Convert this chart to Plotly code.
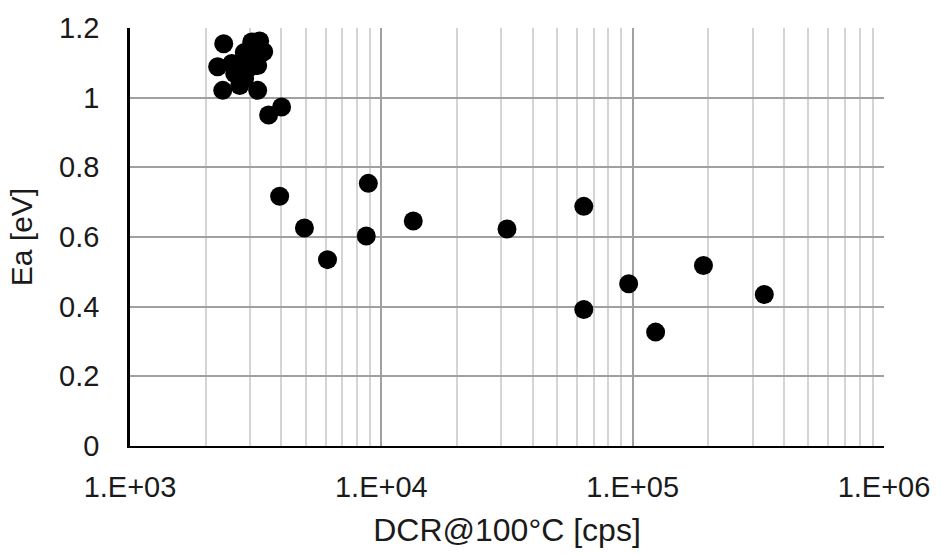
import plotly.graph_objects as go

# DCR@100°C [cps] and activation energy Ea [eV]
dcr = [2360, 2232, 2339, 3221, 3281, 3049, 3404, 2610, 2782, 2993, 3135, 2857,
       2733, 2940, 2541, 3221, 2850,
       3560, 4010, 3940, 4943, 6106, 8876, 8710, 13400, 31620,
       63900, 63900, 96400, 123400, 191300, 334000]
ea = [1.155, 1.089, 1.021, 1.021, 1.163, 1.160, 1.132, 1.069, 1.103, 1.112, 1.140, 1.055,
      1.035, 1.083, 1.098, 1.092, 1.130,
      0.950, 0.973, 0.717, 0.626, 0.535, 0.754, 0.603, 0.646, 0.623,
      0.688, 0.392, 0.466, 0.327, 0.518, 0.435]

x_tickvals = [1e3, 1e4, 1e5, 1e6]
x_ticktext = ["1.E+03", "1.E+04", "1.E+05", "1.E+06"]
y_tickvals = [0, 0.2, 0.4, 0.6, 0.8, 1.0, 1.2]
y_ticktext = ["0", "0.2", "0.4", "0.6", "0.8", "1", "1.2"]

FONT = "Liberation Sans, Arial, sans-serif"

fig = go.Figure()
fig.add_trace(go.Scatter(
    x=dcr, y=ea, mode="markers",
    marker=dict(color="black", size=19, line=dict(width=0)),
    showlegend=False,
))

fig.update_layout(
    width=942, height=554,
    margin=dict(l=130, r=58, t=23, b=107),
    paper_bgcolor="white", plot_bgcolor="white",
    font=dict(family=FONT, size=29, color="#1a1a1a"),
)

fig.update_xaxes(
    type="log", range=[3, 6],
    tickvals=x_tickvals, ticktext=x_ticktext,
    showgrid=True, gridcolor="#a0a0a0", gridwidth=1.5,
    minor=dict(showgrid=True, gridcolor="#d4d4d4", gridwidth=1.5, dtick="D1"),
    showline=True, linecolor="black", linewidth=2, mirror=False,
    ticks="", ticklabelstandoff=14,
    zeroline=False,
    title=dict(text="DCR@100°C [cps]", standoff=17, font=dict(size=32)),
)
fig.update_yaxes(
    range=[0, 1.2],
    tickvals=y_tickvals, ticktext=y_ticktext,
    showgrid=True, gridcolor="#a0a0a0", gridwidth=1.5,
    showline=True, linecolor="black", linewidth=2.5,
    ticks="", ticklabelstandoff=22,
    zeroline=False,
    title=dict(text="Ea [eV]", standoff=18, font=dict(size=30)),
)

fig.write_html("out.html")
